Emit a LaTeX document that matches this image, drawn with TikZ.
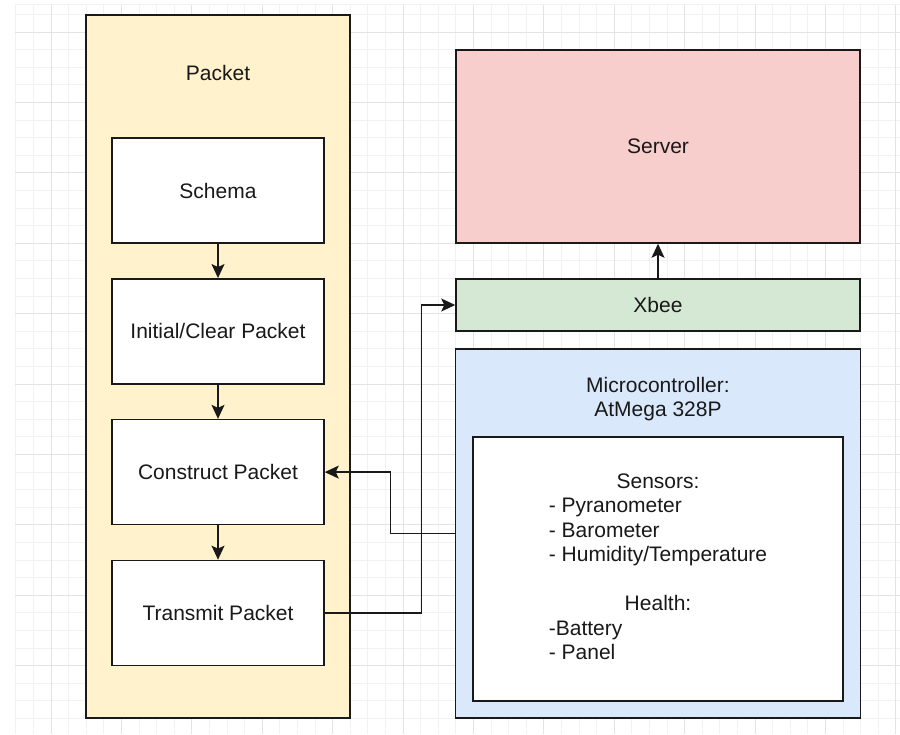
\documentclass[tikz,border=0pt]{standalone}
\usepackage{fontspec}
\setmainfont{Liberation Sans}
\usetikzlibrary{arrows.meta,positioning,calc}

\begin{document}
\begin{tikzpicture} [x=1pt, y=-1pt, font=\fontsize{21}{24.5}\selectfont]
            % Estilos
            \tikzstyle{box}=[rectangle, draw=black!90, line width=1.5pt, inner sep=0pt, align=center, text=black!90]
            \tikzstyle{label}=[inner sep=0pt, align=center, text=black!90]
            \tikzstyle{gridminor}=[draw=black!5, line width=0.8pt]
            \tikzstyle{gridmajor}=[draw=black!11, line width=1pt]
            \tikzstyle{edge}=[-{Stealth[length=14pt,width=13pt,inset=3pt]}, line width=1.4pt, draw=black!90]

            \useasboundingbox (0,0) rectangle (900,734);

            % Grade
            \foreach \i in {0,...,50} \draw[gridminor] ({15.8+17.6*\i},4) -- ({15.8+17.6*\i},734);
            \foreach \j in {0,...,40} \draw[gridminor] (15,{14.4+17.6*\j}) -- (900,{14.4+17.6*\j});
            \foreach \i in {0,...,12} \draw[gridmajor] ({51+70.4*\i},4) -- ({51+70.4*\i},734);
            \foreach \j in {0,...,9} \draw[gridmajor] (15,{32+70.4*\j}) -- (900,{32+70.4*\j});
            \draw[gridminor] (15,4) -- (900,4);

            % Nós
            \node[box, fill={rgb,255:red,255;green,242;blue,204}, minimum width=264pt, minimum height=703pt] (packet) at (218,366.5) {};
            \node[label] (packettitle) at (218,73) {Packet};
            \node[box, fill=white, minimum width=212pt, minimum height=105pt] (schema) at (218,190.5) {Schema};
            \node[box, fill=white, minimum width=212pt, minimum height=105pt] (initial) at (218,331.3) {Initial/Clear Packet};
            \node[box, fill=white, minimum width=212pt, minimum height=105pt] (construct) at (218,472.1) {Construct Packet};
            \node[box, fill=white, minimum width=212pt, minimum height=105pt] (transmit) at (218,612.9) {Transmit Packet};

            \node[box, fill={rgb,255:red,248;green,206;blue,204}, minimum width=404pt, minimum height=193pt] (server) at (658,146.5) {Server};
            \node[box, fill={rgb,255:red,213;green,232;blue,212}, minimum width=404pt, minimum height=52pt] (xbee) at (658,305) {Xbee};
            \node[box, fill={rgb,255:red,218;green,232;blue,252}, minimum width=405pt, minimum height=369pt] (micro) at (658,533.5) {};
            \node[label] (microtitle) at (658,399) {Microcontroller:\\AtMega 328P};
            \node[box, fill=white, minimum width=370pt, minimum height=264pt] (sensors) at (658,569) {%
              \begin{tabular}{@{}l@{}}
                \multicolumn{1}{@{}c@{}}{Sensors:}\\
                - Pyranometer\\
                - Barometer\\
                - Humidity/Temperature\\[24.5pt]
                \multicolumn{1}{@{}c@{}}{Health:}\\
                -Battery\\
                - Panel
              \end{tabular}};

            % Arestas
            \draw[edge] (schema) -- (initial);
            \draw[edge] (initial) -- (construct);
            \draw[edge] (construct) -- (transmit);
            \draw[edge] (xbee) -- (server);
            \draw[edge] (transmit.east) -- ++(97,0) |- (xbee.west);
            \draw[edge] (micro.west) -- ++(-64,0) |- (construct.east);
        \end{tikzpicture}
\end{document}
